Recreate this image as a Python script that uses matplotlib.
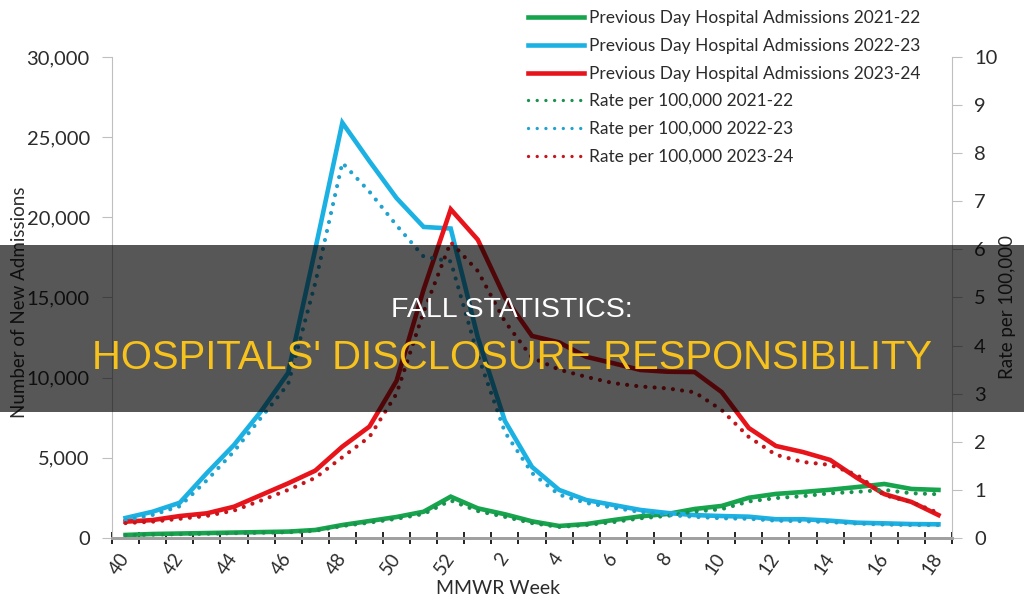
import matplotlib
matplotlib.use("Agg")
import matplotlib.pyplot as plt
from matplotlib.lines import Line2D
from matplotlib.patches import Rectangle

# ==========================================
# Data
# ==========================================
semanas = ["40", "41", "42", "43", "44", "45", "46", "47", "48", "49", "50", "51", "52",
           "1", "2", "3", "4", "5", "6", "7", "8", "9", "10", "11", "12", "13", "14",
           "15", "16", "17", "18"]
etiquetas = ["40", "42", "44", "46", "48", "50", "52", "2", "4", "6", "8", "10", "12",
             "14", "16", "18"]

adm_2122 = [190, 250, 280, 310, 340, 370, 400, 500, 810, 1060, 1310, 1640, 2580,
            1850, 1480, 1040, 750, 870, 1120, 1350, 1500, 1810, 2000, 2510, 2750,
            2870, 3010, 3180, 3370, 3060, 3000]
adm_2223 = [1250, 1640, 2200, 4050, 5800, 7900, 10300, 18000, 25900, 23500, 21200,
            19400, 19300, 12500, 7300, 4430, 3000, 2370, 2060, 1750, 1560, 1430, 1370,
            1330, 1170, 1170, 1080, 955, 915, 870, 855]
adm_2324 = [1020, 1120, 1370, 1540, 1950, 2680, 3410, 4200, 5700, 6950, 9800, 15500,
            20500, 18600, 15000, 12600, 12200, 11300, 10900, 10480, 10370, 10350, 9100,
            6860, 5740, 5360, 4870, 3740, 2740, 2250, 1430]

rate_2122 = [0.06, 0.07, 0.08, 0.09, 0.10, 0.11, 0.12, 0.15, 0.25, 0.32, 0.40, 0.50,
             0.78, 0.56, 0.44, 0.31, 0.23, 0.27, 0.33, 0.41, 0.46, 0.55, 0.60, 0.76,
             0.83, 0.87, 0.93, 0.96, 1.00, 0.93, 0.91]
rate_2223 = [0.37, 0.48, 0.66, 1.2, 1.8, 2.5, 3.2, 5.3, 7.8, 7.2, 6.5, 5.85, 5.75,
             3.8, 2.2, 1.35, 0.9, 0.73, 0.63, 0.54, 0.48, 0.44, 0.41, 0.40, 0.36,
             0.35, 0.33, 0.30, 0.28, 0.27, 0.27]
rate_2324 = [0.31, 0.34, 0.40, 0.46, 0.57, 0.78, 1.0, 1.25, 1.68, 2.1, 3.0, 4.7, 6.15,
             5.55, 4.5, 3.75, 3.5, 3.35, 3.22, 3.15, 3.11, 3.03, 2.66, 2.1, 1.73, 1.58,
             1.52, 1.31, 0.89, 0.75, 0.52]

temporadas = ["2021-22", "2022-23", "2023-24"]
col_solid = ["#16a44c", "#1cb1e3", "#e8141b"]
col_dot = ["#1b9150", "#22a3cf", "#c4161d"]

plt.rcParams['font.family'] = ['Lato', 'DejaVu Sans']
txt_col = '#2b2b2b'

fig = plt.figure(figsize=(10.24, 6.06), dpi=100)
ax = fig.add_axes([0.1094, 0.1122, 0.8203, 0.7938])
ax2 = ax.twinx()

x = list(range(len(semanas)))
dot = (0, (0.01, 2.2))

for adm, c in zip([adm_2122, adm_2223, adm_2324], col_solid):
    ax.plot(x, adm, color=c, lw=3.3, solid_joinstyle='miter', zorder=3)
for rate, c in zip([rate_2122, rate_2223, rate_2324], col_dot):
    ax2.plot(x, rate, color=c, lw=3.0, linestyle=dot, dash_capstyle='round', zorder=3)

# ==========================================
# Axes
# ==========================================
ax.set_xlim(-0.5, len(semanas) - 0.5)
ax.set_ylim(0, 30000)
ax2.set_ylim(0, 10)
ax.set_yticks(range(0, 30001, 5000))
ax.set_yticklabels([f"{v:,}" for v in range(0, 30001, 5000)])
ax2.set_yticks(range(0, 11))

ax.set_xticks([i - 0.5 for i in range(len(semanas) + 1)])
ax.set_xticklabels([])
ax.tick_params(axis='x', which='major', direction='inout', length=9, width=1.2, color='black')
pos_lab = [semanas.index(s) if i < 7 else 13 + int(s) - 1 for i, s in enumerate(etiquetas)]
ax.set_xticks(pos_lab, minor=True)
ax.set_xticklabels(etiquetas, minor=True, rotation=55, ha='right', va='center',
                   rotation_mode='anchor', fontsize=13.5, color=txt_col)
ax.tick_params(axis='x', which='minor', length=0, pad=12)

for a in (ax, ax2):
    a.spines['top'].set_visible(False)
    a.spines['left'].set_color('#bfbfbf')
    a.spines['right'].set_color('#bfbfbf')
    a.spines['bottom'].set_color('#a0a0a0')
    a.spines['bottom'].set_linewidth(2)
ax.spines['right'].set_visible(False)
ax2.spines['left'].set_visible(False)
ax.tick_params(axis='y', length=7, color='#bfbfbf', labelsize=14.5, labelcolor=txt_col, pad=9)
ax2.tick_params(axis='y', length=7, color='#bfbfbf', labelsize=14.5, labelcolor=txt_col, pad=9)

ax.set_ylabel("Number of New Admissions", fontsize=13.5, color=txt_col)
ax.yaxis.set_label_coords(-0.100, 0.49)
ax2.set_ylabel("Rate per 100,000", fontsize=13.5, color=txt_col)
ax2.yaxis.set_label_coords(1.056, 0.48)
ax.set_xlabel("MMWR Week", fontsize=14, color=txt_col)
ax.xaxis.set_label_coords(0.46, -0.088)

# ==========================================
# Legend
# ==========================================
handles = []
labels = []
for t, c in zip(temporadas, col_solid):
    handles.append(Line2D([], [], color=c, lw=3.3))
    labels.append(f"Previous Day Hospital Admissions {t}")
for t, c in zip(temporadas, col_dot):
    handles.append(Line2D([], [], color=c, lw=2.4, linestyle=(0, (0.01, 2.6)),
                          dash_capstyle='round'))
    labels.append(f"Rate per 100,000 {t}")
leg = fig.legend(handles, labels, loc='upper left', bbox_to_anchor=(0.509, 0.995),
                 frameon=False, fontsize=12.5, handlelength=3.2, handletextpad=0.3,
                 labelspacing=0.68, borderaxespad=0)
for txt in leg.get_texts():
    txt.set_color(txt_col)

# ==========================================
# Banner overlay
# ==========================================
fig.add_artist(Rectangle((0, 1 - 412 / 606), 1, (412 - 245) / 606, transform=fig.transFigure,
                         facecolor='black', alpha=0.66, edgecolor='none', zorder=10))
fig.text(0.5, 1 - 310 / 606, "FALL STATISTICS:", ha='center', va='center', color='white',
         fontsize=20.5, family='Liberation Sans', zorder=11)
fig.text(0.5, 1 - 358 / 606, "HOSPITALS' DISCLOSURE RESPONSIBILITY", ha='center', va='center',
         color='#f8c21c', fontsize=28.8, family='Liberation Sans', zorder=11)

fig.savefig("out.png", dpi=100)
